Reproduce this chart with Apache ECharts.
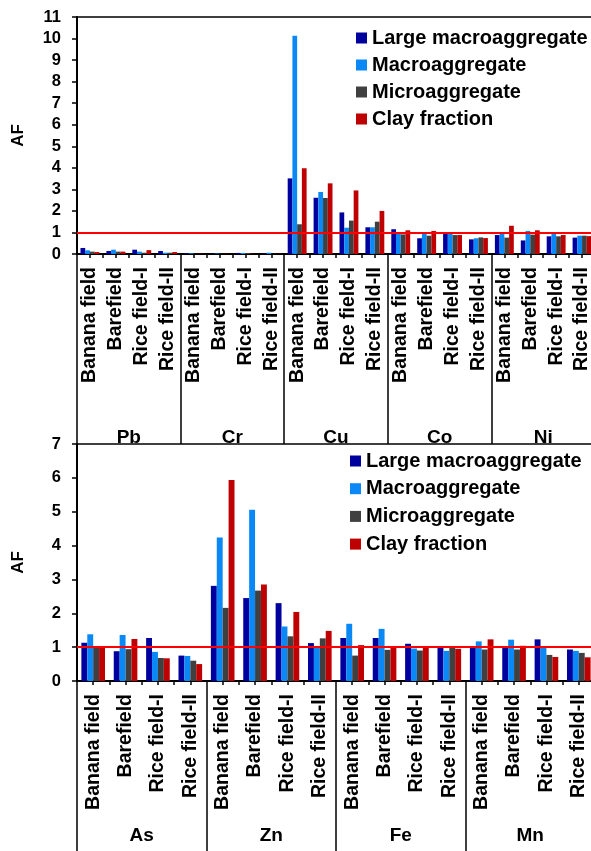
<!DOCTYPE html>
<html><head><meta charset="utf-8">
<script src="https://cdn.jsdelivr.net/npm/echarts@6/dist/echarts.min.js"></script>
<style>html,body{margin:0;padding:0;background:#fff}#c{width:591px;height:851px}</style>
</head><body><div id="c"></div>
<script>
const sites = ['Banana field','Barefield','Rice field-I','Rice field-II'];
const seriesNames = ['Large macroaggregate','Macroaggregate','Microaggregate','Clay fraction'];
const colors = ['#00009E','#0A88F5','#404040','#BF0000'];

const topElements = ['Pb','Cr','Cu','Co','Ni'];
const topLarge = [0.28,0.14,0.20,0.14, 0.03,0.01,0.05,0.02, 3.51,2.61,1.93,1.24, 1.15,0.73,0.96,0.68, 0.88,0.63,0.82,0.76];
const topMacro = [0.17,0.20,0.11,0.06, 0.03,0.02,0.05,0.06, 10.13,2.88,1.22,1.24, 0.99,0.93,0.96,0.73, 0.96,1.07,0.96,0.85];
const topMicro = [0.11,0.11,0.06,0.06, 0.01,0.01,0.04,0.01, 1.38,2.60,1.55,1.50, 0.91,0.85,0.88,0.77, 0.76,0.90,0.82,0.85];
const topClay  = [0.09,0.11,0.18,0.09, 0.01,0.01,0.01,0.01, 3.98,3.28,2.95,2.00, 1.10,1.07,0.88,0.74, 1.31,1.10,0.88,0.83];

const botElements = ['As','Zn','Fe','Mn'];
const botLarge = [1.13,0.88,1.27,0.75, 2.81,2.45,2.30,1.12, 1.27,1.27,1.10,0.98, 0.99,0.98,1.23,0.93];
const botMacro = [1.38,1.36,0.86,0.74, 4.24,5.06,1.61,1.02, 1.69,1.54,0.96,0.89, 1.17,1.22,0.98,0.89];
const botMicro = [0.99,0.94,0.68,0.60, 2.16,2.67,1.32,1.26, 0.75,0.92,0.90,0.98, 0.93,0.93,0.77,0.83];
const botClay  = [0.99,1.24,0.67,0.50, 5.94,2.85,2.04,1.48, 1.06,0.98,0.98,0.95, 1.23,1.04,0.71,0.70];

const topTicks = [0,1,2,3,4,5,6,7,8,9,10,11];
const botTicks = [0,1,2,3,4,5,6,7];
const refValue = 1;

const FF = "'Liberation Sans', Arial, sans-serif";
const chart = echarts.init(document.getElementById('c'));

function cats(elements){ const a=[]; elements.forEach(()=>sites.forEach(s=>a.push(s))); return a; }
function halfCats(n){ return new Array(n*2).fill(''); }

function xAxesFor(gridIndex, elements, groupTickLen, groupMargin){
  const n = elements.length*4;
  return [
    { type:'category', gridIndex, data:cats(elements), position:'bottom',
      axisLine:{lineStyle:{color:'#000',width:2}}, axisTick:{show:false},
      axisLabel:{interval:0, rotate:90, margin:13, fontSize:19.5, fontWeight:'bold', color:'#000', fontFamily:FF}},
    { type:'category', gridIndex, data:halfCats(n), position:'bottom',
      axisLine:{show:false}, axisLabel:{show:false},
      axisTick:{show:true, interval:0, length:4, lineStyle:{color:'#000',width:1.5}}},
    { type:'category', gridIndex, data:elements, position:'bottom',
      axisLine:{show:false},
      axisTick:{show:true, interval:0, length:groupTickLen, lineStyle:{color:'#000',width:1.5}},
      axisLabel:{interval:0, margin:groupMargin, fontSize:19, fontWeight:'bold', color:'#000', fontFamily:FF}}
  ];
}

function yAxisFor(gridIndex, ticks){
  return { type:'value', gridIndex, min:ticks[0], max:ticks[ticks.length-1], interval:ticks[1]-ticks[0],
    name:'AF', nameLocation:'middle', nameRotate:90, nameGap:50,
    nameTextStyle:{fontSize:17, fontWeight:'bold', color:'#000', fontFamily:FF},
    axisLine:{show:true, lineStyle:{color:'#000',width:2}},
    axisTick:{show:true, inside:false, length:5, lineStyle:{color:'#000',width:1.5}},
    splitLine:{show:false},
    axisLabel:{margin:16, fontSize:16.5, fontWeight:'bold', color:'#000', fontFamily:FF}};
}

function seriesFor(xIdx, yIdx, arrays){
  return arrays.map((d,i)=>{
    const s = { name:seriesNames[i], type:'bar', xAxisIndex:xIdx, yAxisIndex:yIdx, data:d,
      itemStyle:{color:colors[i]}, barGap:'0%', barCategoryGap:'27%', animation:false };
    if(i===0){
      s.markLine = { silent:true, symbol:'none', label:{show:false},
        lineStyle:{color:'#FF0000', width:2, type:'solid'}, data:[{yAxis:refValue}], animation:false };
    }
    return s;
  });
}

const legendCommon = { orient:'vertical', icon:'rect', itemWidth:11, itemHeight:11,
  textStyle:{fontSize:20, fontWeight:'bold', color:'#000', fontFamily:FF, lineHeight:20},
  data:seriesNames, selectedMode:false, padding:0 };

chart.setOption({
  backgroundColor:'#fff',
  animation:false,
  grid:[
    {left:77, width:518, top:17, height:237, show:true, borderColor:'#000', borderWidth:1.5, backgroundColor:'transparent', outerBoundsMode:'none', containLabel:false},
    {left:77, width:518, top:444, height:237, show:true, borderColor:'#000', borderWidth:1.5, backgroundColor:'transparent', outerBoundsMode:'none', containLabel:false}
  ],
  legend:[
    Object.assign({left:356, top:28, itemGap:7}, legendCommon),
    Object.assign({left:350, top:451, itemGap:7.7}, legendCommon)
  ],
  xAxis:[].concat(xAxesFor(0, topElements, 190, 174), xAxesFor(1, botElements, 172, 145)),
  yAxis:[yAxisFor(0, topTicks), yAxisFor(1, botTicks)],
  series:[].concat(
    seriesFor(0, 0, [topLarge, topMacro, topMicro, topClay]),
    seriesFor(3, 1, [botLarge, botMacro, botMicro, botClay])
  )
});
</script></body></html>
